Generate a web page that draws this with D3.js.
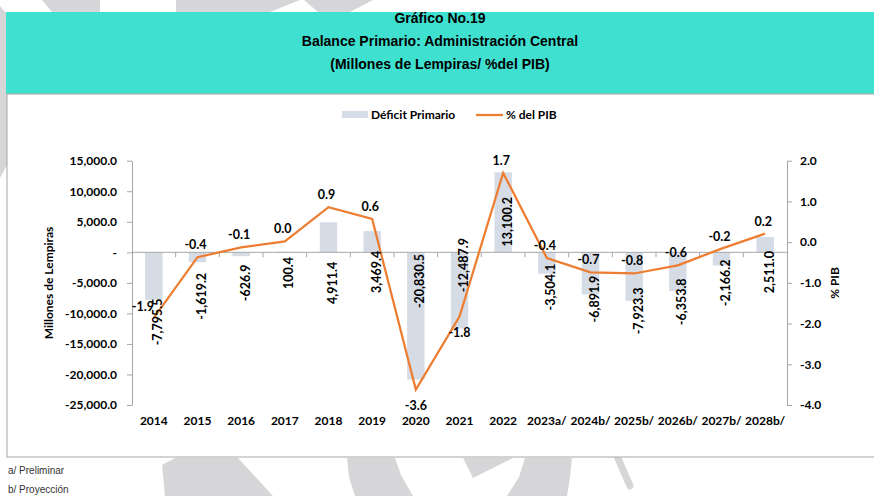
<!DOCTYPE html>
<html>
<head>
<meta charset="utf-8">
<script src="https://cdn.jsdelivr.net/npm/d3@7"></script>
<style>
    body { margin: 0; background: #fff; }
    svg { display: block; }
    .ax text { font-family: Lato, "Open Sans", sans-serif; font-weight: bold; font-size: 12px; fill: #000; }
</style>
</head>
<body>
<div id="chart"></div>
<script>
// Balance primario - Administración Central
const years = ["2014", "2015", "2016", "2017", "2018", "2019", "2020", "2021", "2022",
    "2023a/", "2024b/", "2025b/", "2026b/", "2027b/", "2028b/"];
const deficit = [-7795.5, -1619.2, -626.9, 100.4, 4911.4, 3469.4, -20830.5, -12487.9,
    13100.2, -3504.1, -6891.9, -7923.3, -6353.8, -2166.2, 2511.0];
const pctPib = [-1.86, -0.37, -0.13, 0.02, 0.86, 0.57, -3.62, -1.83, 1.70,
    -0.39, -0.74, -0.77, -0.57, -0.16, 0.21];

// where each bar label sits (in Millones) and where each % label goes
const barLabelAt = [-11400, -7200, -5000, -3400, -5000, -3200, -4700, -2100, 5000,
    -5700, -7650, -9600, -8100, -5000, -3250];
const pctLabelPos = ["left", "above", "above", "above", "above", "above", "below", "below",
    "above", "above", "above", "above", "above", "above", "above"];

const leftTicks = [15000, 10000, 5000, 0, -5000, -10000, -15000, -20000, -25000];
const rightTicks = [2, 1, 0, -1, -2, -3, -4];

const titleLines = ["Gráfico No.19", "Balance Primario: Administración Central",
    "(Millones de Lempiras/ %del PIB)"];
const notes = ["a/ Preliminar", "b/ Proyección"];

const fmt = d3.formatLocale({decimal: ".", thousands: ",", grouping: [3], currency: ["", ""], minus: "-"});
const fmtMill = fmt.format(",.1f");
const fmtPct = fmt.format(".1f");

const width = 874;
const height = 496;
const barColor = "#D6DCE5";
const lineColor = "#ED7D31";
const axisColor = "#A6A6A6";
const wmColor = "#D6D6D8";

const svg = d3.select("#chart")
    .append("svg")
    .attr("width", width)
    .attr("height", height);

// watermark shapes in the background
const marks = [
    [[42, 0], [100, 0], [100, 12], [52, 12]],
    [[176, 0], [300, 0], [270, 12], [176, 12]],
    [[304, 0], [373, 0], [350, 12], [318, 12]],
    [[0, 6], [7, 14], [7, 165], [0, 178]],
    [[162, 465], [175, 458], [238, 458], [273, 496], [165, 496]],
    [[347, 458], [395, 458], [401, 475], [413, 496], [355, 496], [349, 477]],
    [[463, 458], [513, 458], [473, 478]],
    [[525, 458], [572, 458], [570, 477], [567, 496], [507, 496], [519, 477]]
];
svg.selectAll("polygon.wm")
    .data(marks)
    .enter()
    .append("polygon")
    .attr("class", "wm")
    .attr("points", d => d.map(p => p.join(",")).join(" "))
    .attr("fill", wmColor);
svg.append("line")
    .attr("x1", 617).attr("y1", 456).attr("x2", 630).attr("y2", 486)
    .attr("stroke", wmColor).attr("stroke-width", 7).attr("stroke-linecap", "round");

// header
svg.append("rect")
    .attr("x", 6).attr("y", 12)
    .attr("width", width - 6).attr("height", 82)
    .attr("fill", "#40E0D0");

svg.selectAll("text.title")
    .data(titleLines)
    .enter()
    .append("text")
    .attr("class", "title")
    .attr("x", 440)
    .attr("y", (d, i) => 23 + i * 23)
    .attr("text-anchor", "middle")
    .style("font-family", "'Liberation Sans Narrow', 'Arial Narrow', sans-serif")
    .style("font-weight", "bold")
    .style("font-size", "14px")
    .text(d => d);

// chart box
svg.append("rect")
    .attr("x", 7).attr("y", 94)
    .attr("width", width + 10).attr("height", 363)
    .attr("fill", "#fff")
    .attr("stroke", axisColor);

// scales
const x = d3.scaleBand()
    .domain(years)
    .range([132, 787]);

const yLeft = d3.scaleLinear()
    .domain([-25000, 15000])
    .range([405, 160.7]);

const yRight = d3.scaleLinear()
    .domain([-4, 2])
    .range([405, 160.7]);

const barW = x.bandwidth() * 0.4;
const cx = d => x(d) + x.bandwidth() / 2;

// bars
svg.selectAll("rect.bar")
    .data(years)
    .enter()
    .append("rect")
    .attr("class", "bar")
    .attr("x", d => cx(d) - barW / 2)
    .attr("y", (d, i) => yLeft(Math.max(0, deficit[i])))
    .attr("width", barW)
    .attr("height", (d, i) => Math.abs(yLeft(deficit[i]) - yLeft(0)))
    .attr("fill", barColor);

// left axis
svg.append("g")
    .attr("class", "ax")
    .attr("transform", "translate(132,0)")
    .call(d3.axisLeft(yLeft)
        .tickValues(leftTicks)
        .tickSize(5)
        .tickSizeOuter(0)
        .tickPadding(10)
        .tickFormat(d => d === 0 ? "-" : fmtMill(d)));

// right axis
svg.append("g")
    .attr("class", "ax")
    .attr("transform", "translate(787,0)")
    .call(d3.axisRight(yRight)
        .tickValues(rightTicks)
        .tickSize(5)
        .tickSizeOuter(0)
        .tickPadding(8)
        .tickFormat(fmtPct));

// category axis along zero, labels at the bottom
svg.append("line")
    .attr("x1", 132).attr("x2", 787)
    .attr("y1", yLeft(0)).attr("y2", yLeft(0))
    .attr("stroke", axisColor);

svg.selectAll("line.ctick")
    .data(years.slice(1))
    .enter()
    .append("line")
    .attr("class", "ctick")
    .attr("x1", d => x(d)).attr("x2", d => x(d))
    .attr("y1", yLeft(0)).attr("y2", yLeft(0) + 5)
    .attr("stroke", axisColor);

const gb = svg.append("g")
    .attr("class", "ax")
    .attr("transform", "translate(0,405)")
    .call(d3.axisBottom(x).tickSize(0).tickPadding(11));
gb.select(".domain").remove();

svg.selectAll(".ax .domain, .ax .tick line").attr("stroke", axisColor);

// axis titles
svg.append("text")
    .attr("transform", "translate(53,283) rotate(-90)")
    .attr("text-anchor", "middle")
    .style("font-family", "Lato, sans-serif")
    .style("font-weight", "bold")
    .style("font-size", "12px")
    .text("Millones de Lempiras");

svg.append("text")
    .attr("transform", "translate(839,283) rotate(-90)")
    .attr("text-anchor", "middle")
    .style("font-family", "Lato, sans-serif")
    .style("font-weight", "bold")
    .style("font-size", "12px")
    .text("% PIB");

// % del PIB line
const line = d3.line()
    .x((d, i) => cx(years[i]))
    .y(d => yRight(d));

svg.append("path")
    .datum(pctPib)
    .attr("d", line)
    .attr("fill", "none")
    .attr("stroke", lineColor)
    .attr("stroke-width", 2.25);

// bar labels, rotated
svg.selectAll("text.blab")
    .data(years)
    .enter()
    .append("text")
    .attr("class", "blab")
    .attr("transform", (d, i) => `translate(${cx(d) + 4},${yLeft(barLabelAt[i])}) rotate(-90)`)
    .attr("text-anchor", "middle")
    .attr("dy", "0.35em")
    .style("font-family", "Lato, sans-serif")
    .style("font-weight", "bold")
    .style("font-size", "12.5px")
    .text((d, i) => fmtMill(deficit[i]));

// % labels
const pdx = {above: -2, below: 0, left: -11};
const pdy = {above: -8, below: 20, left: -7};
svg.selectAll("text.plab")
    .data(years)
    .enter()
    .append("text")
    .attr("class", "plab")
    .attr("x", (d, i) => cx(d) + pdx[pctLabelPos[i]])
    .attr("y", (d, i) => yRight(pctPib[i]) + pdy[pctLabelPos[i]])
    .attr("text-anchor", "middle")
    .style("font-family", "Lato, sans-serif")
    .style("font-weight", "bold")
    .style("font-size", "12.5px")
    .text((d, i) => fmtPct(pctPib[i]));

// legend
svg.append("rect")
    .attr("x", 342).attr("y", 111)
    .attr("width", 26).attr("height", 7)
    .attr("fill", barColor);
svg.append("text")
    .attr("x", 371).attr("y", 119)
    .style("font-family", "Lato, sans-serif")
    .style("font-weight", "bold")
    .style("font-size", "12px")
    .text("Déficit Primario");
svg.append("line")
    .attr("x1", 476).attr("x2", 503)
    .attr("y1", 115).attr("y2", 115)
    .attr("stroke", lineColor)
    .attr("stroke-width", 2.25);
svg.append("text")
    .attr("x", 506).attr("y", 119)
    .style("font-family", "Lato, sans-serif")
    .style("font-weight", "bold")
    .style("font-size", "12px")
    .text("% del PIB");

// footnotes
svg.selectAll("text.note")
    .data(notes)
    .enter()
    .append("text")
    .attr("class", "note")
    .attr("x", 8)
    .attr("y", (d, i) => 474 + i * 19)
    .style("font-family", "'Liberation Sans Narrow', 'Arial Narrow', sans-serif")
    .style("font-size", "10px")
    .style("fill", "#333")
    .text(d => d);
</script>
</body>
</html>
